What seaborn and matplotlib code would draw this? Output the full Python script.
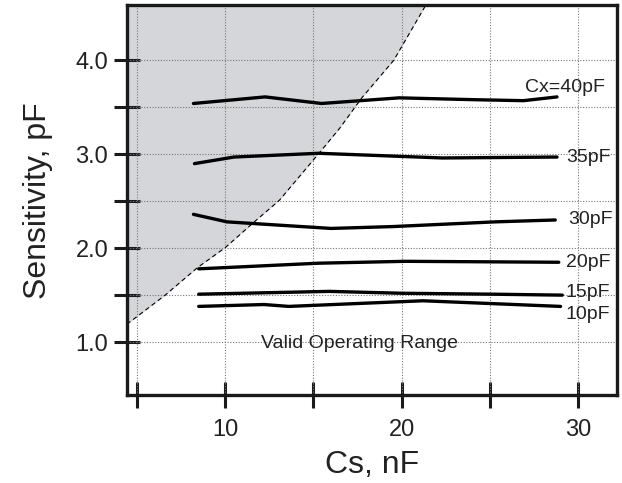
import numpy as np
import pandas as pd
import matplotlib
matplotlib.use("Agg")
import matplotlib.pyplot as plt
import seaborn as sns

# boundary of the shaded (invalid) region
boundary_cs = [4.43, 6.6, 8.41, 10.03, 11.65, 13.07, 15.36, 16.5, 17.74, 19.55, 20.2, 21.36]
boundary_sens = [1.19, 1.50, 1.79, 2.01, 2.28, 2.51, 3.02, 3.28, 3.60, 4.0, 4.21, 4.585]

# sensitivity curves for each Cx
cs_40 = [8.2, 12.26, 15.46, 19.86, 24.2, 26.9, 28.8]
sens_40 = [3.54, 3.61, 3.54, 3.60, 3.58, 3.57, 3.61]
cs_35 = [8.26, 10.5, 15.3, 19.5, 22.3, 28.8]
sens_35 = [2.90, 2.97, 3.01, 2.98, 2.96, 2.97]
cs_30 = [8.2, 10.1, 16.0, 19.5, 25.3, 28.7]
sens_30 = [2.36, 2.28, 2.21, 2.23, 2.28, 2.30]
cs_20 = [8.5, 15.3, 20.2, 28.9]
sens_20 = [1.78, 1.84, 1.86, 1.85]
cs_15 = [8.5, 15.9, 20.0, 25.2, 29.1]
sens_15 = [1.51, 1.54, 1.52, 1.51, 1.50]
cs_10 = [8.5, 12.2, 13.6, 21.2, 29.0]
sens_10 = [1.38, 1.40, 1.38, 1.44, 1.38]

curve_labels = ["Cx=40pF", "35pF", "30pF", "20pF", "15pF", "10pF"]
label_pos = [(27.0, 3.71), (29.3, 2.97), (29.45, 2.30), (29.3, 1.85), (29.3, 1.53), (29.3, 1.29)]

x_ticks = [5, 10, 15, 20, 25, 30]
x_tick_labels = ["", "10", "", "20", "", "30"]
y_ticks = [1.0, 1.5, 2.0, 2.5, 3.0, 3.5, 4.0]
y_tick_labels = ["1.0", "", "2.0", "", "3.0", "", "4.0"]

sns.set_style("white")
plt.rcParams['font.family'] = ['Liberation Sans', 'DejaVu Sans']

fig = plt.figure(figsize=(6.22, 4.83), dpi=100)
ax = fig.add_axes([0.204, 0.182, 0.788, 0.807])

xmin, xmax = 4.43, 32.2
ymin, ymax = 0.436, 4.585

# grid
for xv in x_ticks:
    ax.axvline(xv, color='#777777', lw=0.8, ls=(0, (1, 1.5)), zorder=1)
for yv in y_ticks:
    ax.axhline(yv, color='#777777', lw=0.8, ls=(0, (1, 1.5)), zorder=1)

# shaded region
ax.fill_between(boundary_cs, boundary_sens, ymax, color='#d5d6da', lw=0, zorder=0.5)
ax.plot(boundary_cs, boundary_sens, color='black', lw=0.8, ls=(0, (4, 3)), zorder=2)

series = [(cs_40, sens_40), (cs_35, sens_35), (cs_30, sens_30),
          (cs_20, sens_20), (cs_15, sens_15), (cs_10, sens_10)]
for cs, sens in series:
    df = pd.DataFrame({"cs": cs, "sens": sens})
    sns.lineplot(data=df, x="cs", y="sens", color='black', lw=2.4,
                 estimator=None, sort=False, ax=ax, zorder=3)

for lab, (lx, ly) in zip(curve_labels, label_pos):
    ax.text(lx, ly, lab, fontsize=14, va='center', ha='left', color='#222222')

ax.text(17.6, 0.99, "Valid Operating Range", fontsize=14, ha='center', va='center',
        color='#222222', zorder=4)

ax.set_xlim(xmin, xmax)
ax.set_ylim(ymin, ymax)
ax.set_xticks(x_ticks)
ax.set_xticklabels(x_tick_labels)
ax.set_yticks(y_ticks)
ax.set_yticklabels(y_tick_labels)
ax.tick_params(axis='both', direction='inout', length=19, width=2.2,
               bottom=True, left=True, color='#1a1a1a', labelsize=17,
               labelcolor='#222222')
ax.tick_params(axis='x', pad=8)
ax.tick_params(axis='y', pad=4)
for sp in ax.spines.values():
    sp.set_linewidth(2.4)
    sp.set_color('#1a1a1a')
    sp.set_visible(True)

ax.set_xlabel("Cs, nF", fontsize=23, color='#222222', labelpad=6)
ax.set_ylabel("Sensitivity, pF", fontsize=23, color='#222222', labelpad=16)

fig.savefig("out.png", dpi=100)
